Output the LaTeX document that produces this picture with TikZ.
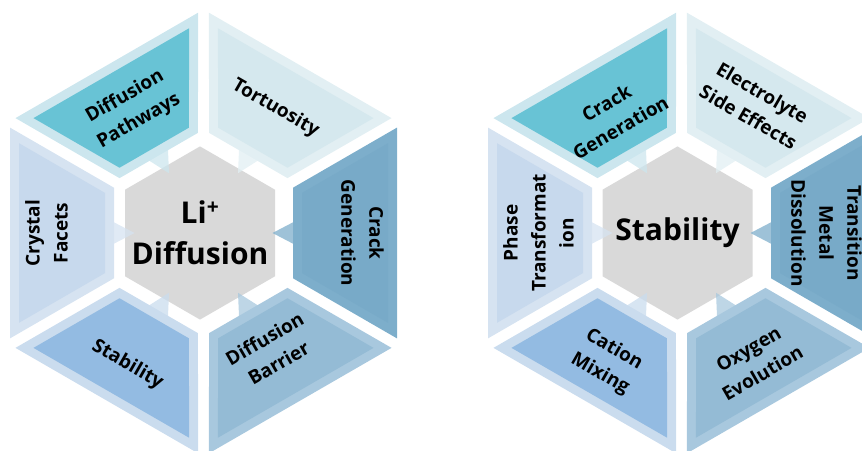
\documentclass[tikz,border=0pt]{standalone}
\usepackage{fontspec}
\setmainfont{Open Sans}
\usetikzlibrary{calc, shapes.geometric}

\definecolor{hubgrey}{HTML}{D9D9D9}
\definecolor{tealfill}{HTML}{68C3D5}
\definecolor{tealband}{HTML}{CCE6EE}
\definecolor{palefill}{HTML}{D5E8EE}
\definecolor{paleband}{HTML}{E2EFF3}
\definecolor{steelfill}{HTML}{78AAC8}
\definecolor{steelband}{HTML}{7DAECB}
\definecolor{duskfill}{HTML}{94BBD5}
\definecolor{duskband}{HTML}{A8C8DE}
\definecolor{skyfill}{HTML}{93BBE2}
\definecolor{skyband}{HTML}{CADCEE}
\definecolor{frostfill}{HTML}{C7D9ED}
\definecolor{frostband}{HTML}{D6E3F1}

\tikzset{
	hub/.style={regular polygon, regular polygon sides=6, rotate=30, minimum size=173.2pt, inner sep=0pt, fill=hubgrey},
	hubtext/.style={inner sep=0pt, align=center, font=\fontsize{30}{41}\selectfont\bfseries},
	seglabel/.style={inner sep=0pt, align=center, font=\fontsize{19}{28}\selectfont\bfseries}
}

% one piece of the ring: centre, direction, band colour, fill colour
\newcommand{\hexseg}[4]{%
	\begin{scope}[shift={(#1)}, rotate=#2]
		\fill[#3] (89.5,-45.3) -- (193.5,-105.4) -- (193.5,105.4) -- (89.5,45.3) -- cycle;
		\fill[#4] (98.5,-40.1) -- (184.5,-89.8) -- (184.5,89.8) -- (98.5,40.1) -- cycle;
		\fill[#3, fill opacity=.75] (92,-12) -- (69,0) -- (92,12) -- cycle;
	\end{scope}}

\begin{document}
\begin{tikzpicture}[x=1pt, y=1pt]
	\useasboundingbox (0,0) rectangle (862,450);
	\clip (0,0) rectangle (862,450);
	\coordinate (ringL) at (203.5,217);
	\coordinate (ringR) at (681.5,217);

	% Left ring:
	\node[hub] (hubL) at (200,217) {};
	\hexseg{ringL}{120}{tealband}{tealfill}
	\hexseg{ringL}{60}{paleband}{palefill}
	\hexseg{ringL}{0}{steelband}{steelfill}
	\hexseg{ringL}{300}{duskband}{duskfill}
	\hexseg{ringL}{240}{skyband}{skyfill}
	\hexseg{ringL}{180}{frostband}{frostfill}
	\node[hubtext] (diffusionL) at (hubL) {Li\textsuperscript{+}\\Diffusion};
	\node[seglabel, rotate=30] (pathwaysL) at ($(ringL)+(120:143)$) {Diffusion\\Pathways};
	\node[seglabel, rotate=-30] (tortuosityL) at ($(ringL)+(60:144)$) {Tortuosity};
	\node[seglabel, rotate=-90] (crackL) at ($(ringL)+(0:159)$) {Crack\\Generation};
	\node[seglabel, rotate=30] (barrierL) at ($(ringL)+(300:136)$) {Diffusion\\Barrier};
	\node[seglabel, rotate=-30] (stabilityL) at ($(ringL)+(240:152)$) {Stability};
	\node[seglabel, rotate=90] (facetsL) at ($(ringL)+(180:157)$) {Crystal\\Facets};

	% Right ring:
	\node[hub] (hubR) at (677.5,217) {};
	\hexseg{ringR}{120}{tealband}{tealfill}
	\hexseg{ringR}{60}{paleband}{palefill}
	\hexseg{ringR}{0}{steelband}{steelfill}
	\hexseg{ringR}{300}{duskband}{duskfill}
	\hexseg{ringR}{240}{skyband}{skyfill}
	\hexseg{ringR}{180}{frostband}{frostfill}
	\node[hubtext] (stabilityR) at (hubR) {Stability};
	\node[seglabel, rotate=30] (crackR) at ($(ringR)+(120:136)$) {Crack\\Generation};
	\node[seglabel, rotate=-30] (electrolyteR) at ($(ringR)+(60:148)$) {Electrolyte\\Side Effects};
	\node[seglabel, rotate=-90] (dissolutionR) at ($(ringR)+(0:145)$) {Transition\\Metal\\Dissolution};
	\node[seglabel, rotate=30] (oxygenR) at ($(ringR)+(300:148)$) {Oxygen\\Evolution};
	\node[seglabel, rotate=-30] (mixingR) at ($(ringR)+(240:149)$) {Cation\\Mixing};
	\node[seglabel, rotate=90] (phaseR) at ($(ringR)+(180:143)$) {Phase\\Transformat\\ion};
\end{tikzpicture}
\end{document}
